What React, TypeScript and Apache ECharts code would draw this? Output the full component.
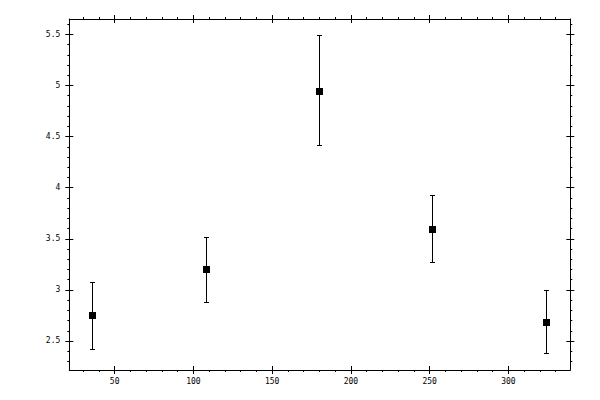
import { useEffect, useRef } from 'react';
import * as echarts from 'echarts';

// 测量点（x）与均值、误差上下限
const xValues = [36, 108, 180, 252, 324];
const means = [2.75, 3.2, 4.95, 3.6, 2.69];
const uppers = [3.08, 3.52, 5.49, 3.93, 3.0];
const lowers = [2.42, 2.88, 4.42, 3.27, 2.38];

// 刻度位置
const xMajorTicks = [50, 100, 150, 200, 250, 300];
const xMinorTicks = [30, 40, 60, 70, 80, 90, 110, 120, 130, 140, 160, 170, 180, 190, 210, 220, 230, 240, 260, 270, 280, 290, 310, 320, 330];
const yMajorTicks = [2.5, 3, 3.5, 4, 4.5, 5, 5.5];
const yMinorTicks = [2.3, 2.4, 2.6, 2.7, 2.8, 2.9, 3.1, 3.2, 3.3, 3.4, 3.6, 3.7, 3.8, 3.9, 4.1, 4.2, 4.3, 4.4, 4.6, 4.7, 4.8, 4.9, 5.1, 5.2, 5.3, 5.4, 5.6];

const X_MIN = 21.2;
const X_MAX = 339.3;
const Y_MIN = 2.216;
const Y_MAX = 5.65;

const FONT = 'DejaVu Sans Mono';

// 每条边三根轴：外侧主刻度+标签、内侧主刻度、外侧次刻度
function sideAxes(kind: 'x' | 'y', position: string, withLabels: boolean) {
  const range = kind === 'x' ? { min: X_MIN, max: X_MAX } : { min: Y_MIN, max: Y_MAX };
  const major = kind === 'x' ? xMajorTicks : yMajorTicks;
  const minor = kind === 'x' ? xMinorTicks : yMinorTicks;
  const base = {
    type: 'value',
    gridIndex: 0,
    position,
    ...range,
    splitLine: { show: false },
    axisPointer: { show: false },
  };
  const tickLine = { color: '#000', width: 1 };
  return [
    {
      ...base,
      axisLine: { show: true, onZero: false, lineStyle: { color: '#000', width: 1 } },
      axisTick: { show: true, inside: false, length: 4, customValues: major, lineStyle: tickLine },
      axisLabel: {
        show: withLabels,
        customValues: major,
        color: '#000',
        fontFamily: FONT,
        fontSize: 8,
        margin: kind === 'x' ? 7 : 9,
      },
    },
    {
      ...base,
      axisLine: { show: false, onZero: false },
      axisTick: { show: true, inside: true, length: 4, customValues: major, lineStyle: tickLine },
      axisLabel: { show: false },
    },
    {
      ...base,
      axisLine: { show: false, onZero: false },
      axisTick: { show: true, inside: false, length: 2, customValues: minor, lineStyle: tickLine },
      axisLabel: { show: false },
    },
  ];
}

export default function App() {
  const chartRef = useRef<HTMLDivElement>(null);

  useEffect(() => {
    if (!chartRef.current) return;
    const chart = echarts.init(chartRef.current, null, { renderer: 'svg' });

    const data = xValues.map((x, i) => [x, means[i], lowers[i], uppers[i]]);

    const option = {
      animation: false,
      backgroundColor: '#fff',
      grid: {
        left: 69.3,
        right: 29.7,
        top: 19,
        bottom: 30,
        containLabel: false,
        outerBoundsMode: 'none',
      },
      xAxis: [...sideAxes('x', 'bottom', true), ...sideAxes('x', 'top', false)],
      yAxis: [...sideAxes('y', 'left', true), ...sideAxes('y', 'right', false)],
      series: [
        {
          type: 'custom',
          xAxisIndex: 0,
          yAxisIndex: 0,
          silent: true,
          data,
          renderItem: (params: any, api: any) => {
            const x = api.value(0);
            const mid = api.coord([x, api.value(1)]);
            const bot = api.coord([x, api.value(2)]);
            const top = api.coord([x, api.value(3)]);
            // 对齐到像素，线条更清晰
            const px = Math.floor(mid[0]);
            const cx = px + 0.5;
            const yt = Math.round(top[1]) + 0.5;
            const yb = Math.round(bot[1]) + 0.5;
            const ym = Math.round(mid[1]);
            const hw = 2.5;
            const style = { stroke: '#000', lineWidth: 1 };
            return {
              type: 'group',
              children: [
                { type: 'line', shape: { x1: cx, y1: yt, x2: cx, y2: yb }, style },
                { type: 'line', shape: { x1: cx - hw, y1: yt, x2: cx + hw, y2: yt }, style },
                { type: 'line', shape: { x1: cx - hw, y1: yb, x2: cx + hw, y2: yb }, style },
                {
                  type: 'rect',
                  shape: { x: px - 3, y: ym - 3, width: 7, height: 7 },
                  style: { fill: '#000' },
                },
              ],
            };
          },
        },
      ],
    };

    chart.setOption(option as any);

    return () => {
      chart.dispose();
    };
  }, []);

  return (
    <div
      ref={chartRef}
      style={{ position: 'fixed', left: 0, top: 0, width: 600, height: 400, background: '#fff' }}
    />
  );
}
